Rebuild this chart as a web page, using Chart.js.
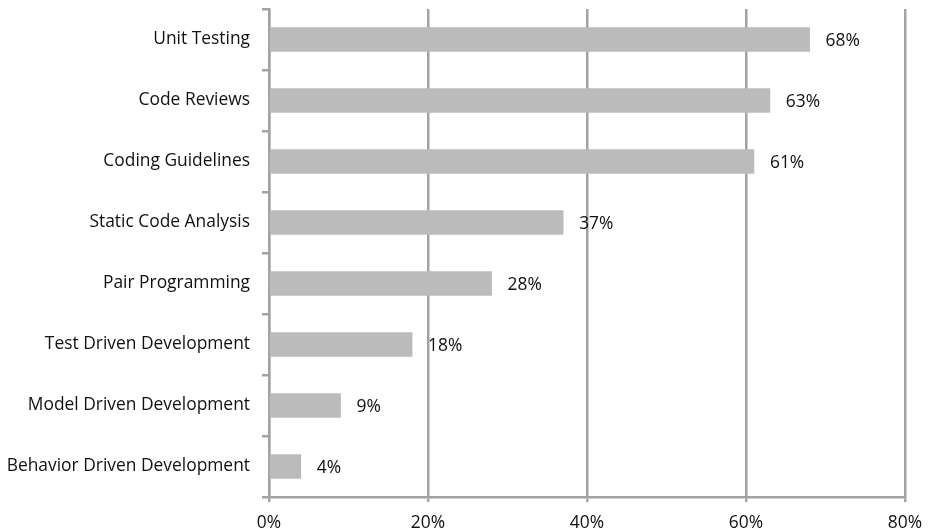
<!DOCTYPE html>
<html>
<head>
<meta charset="utf-8">
<script src="https://cdn.jsdelivr.net/npm/chart.js@4.4.1/dist/chart.umd.min.js"></script>
<style>
  html, body { margin: 0; padding: 0; background: #fff; }
  #wrap { width: 928px; height: 532px; }
</style>
</head>
<body>
<div id="wrap"><canvas id="chart" width="928" height="532"></canvas></div>
<script>
// practicas y porcentaje de uso
var practicas = [
  'Unit Testing',
  'Code Reviews',
  'Coding Guidelines',
  'Static Code Analysis',
  'Pair Programming',
  'Test Driven Development',
  'Model Driven Development',
  'Behavior Driven Development'
];
var porcentajes = [68, 63, 61, 37, 28, 18, 9, 4];
var ticksX = [0, 20, 40, 60, 80];

var fuente = "'Open Sans', 'Noto Sans', sans-serif";
var tamFuente = 17.4;
var gris = '#a3a3a3';

// Etiqueta con el valor al final de cada barra
var etiquetasValor = {
  id: 'etiquetasValor',
  afterDatasetsDraw: function(chart) {
    var ctx = chart.ctx;
    var meta = chart.getDatasetMeta(0);
    ctx.save();
    ctx.font = tamFuente + 'px ' + fuente;
    ctx.fillStyle = '#111';
    ctx.textAlign = 'left';
    ctx.textBaseline = 'middle';
    meta.data.forEach(function(bar, i) {
      ctx.fillText(porcentajes[i] + '%', bar.x + 16, bar.y + 2);
    });
    ctx.restore();
  }
};

var ctx = document.getElementById('chart').getContext('2d');
new Chart(ctx, {
  type: 'bar',
  data: {
    labels: practicas,
    datasets: [{
      data: porcentajes,
      backgroundColor: '#bbbbbb',
      borderWidth: 0,
      barThickness: 24
    }]
  },
  options: {
    indexAxis: 'y',
    responsive: false,
    animation: false,
    layout: { padding: { top: 9, right: 23, left: 0, bottom: 0 } },
    plugins: {
      legend: { display: false },
      tooltip: { enabled: false }
    },
    scales: {
      x: {
        min: 0,
        max: 80,
        afterFit: function(axis) {
          axis.height = 35;
          axis.paddingLeft = 0;
          axis.paddingRight = 0;
        },
        afterBuildTicks: function(axis) {
          axis.ticks = ticksX.map(function(v) { return { value: v }; });
        },
        grid: { color: gris, lineWidth: 2.5, tickLength: 5 },
        border: { color: gris, width: 2.5 },
        ticks: {
          padding: 11,
          color: '#111',
          font: { family: fuente, size: tamFuente },
          callback: function(v) { return v + '%'; }
        }
      },
      y: {
        afterFit: function(axis) {
          axis.width = 269;
          axis.paddingTop = 0;
          axis.paddingBottom = 0;
        },
        grid: { drawOnChartArea: false, offset: true, color: gris, lineWidth: 2.5, tickLength: 7 },
        border: { color: gris, width: 2.5 },
        ticks: {
          padding: 12,
          color: '#111',
          font: { family: fuente, size: tamFuente }
        }
      }
    }
  },
  plugins: [etiquetasValor]
});
</script>
</body>
</html>
